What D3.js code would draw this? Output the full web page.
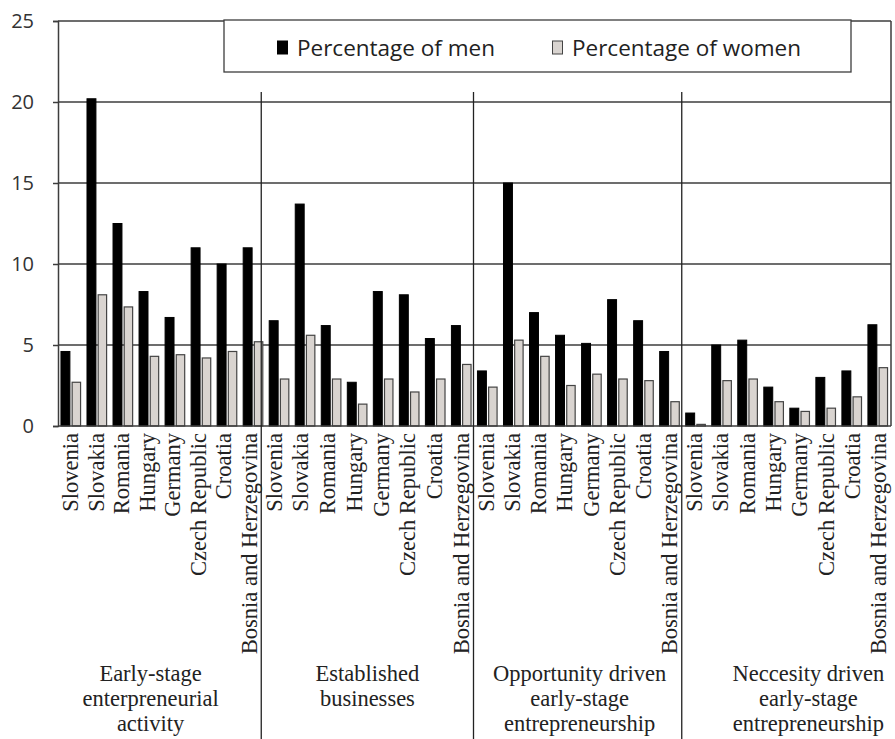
<!DOCTYPE html>
<html>
<head>
<meta charset="utf-8">
<script src="https://cdn.jsdelivr.net/npm/d3@7"></script>
<style>
  html, body { margin: 0; padding: 0; background: #fff; }
  svg { display: block; }
</style>
</head>
<body>
<div id="chart"></div>
<script>
// Countries repeated inside every indicator group
const countries = ["Slovenia", "Slovakia", "Romania", "Hungary", "Germany",
                   "Czech Republic", "Croatia", "Bosnia and Herzegovina"];

// Indicator groups (multi-line captions)
const groupLabels = [
  ["Early-stage", "enterpreneurial", "activity"],
  ["Established", "businesses"],
  ["Opportunity driven", "early-stage", "entrepreneurship"],
  ["Neccesity driven", "early-stage", "entrepreneurship"]
];

// Percentage of men, one row per indicator group, countries in order above
const menEarly       = [4.6, 20.2, 12.5, 8.3, 6.7, 11.0, 10.0, 11.0];
const menEstablished = [6.5, 13.7, 6.2, 2.7, 8.3, 8.1, 5.4, 6.2];
const menOpportunity = [3.4, 15.0, 7.0, 5.6, 5.1, 7.8, 6.5, 4.6];
const menNecessity   = [0.8, 5.0, 5.3, 2.4, 1.1, 3.0, 3.4, 6.25];

// Percentage of women
const womenEarly       = [2.7, 8.1, 7.35, 4.3, 4.4, 4.2, 4.6, 5.2];
const womenEstablished = [2.9, 5.6, 2.9, 1.35, 2.9, 2.1, 2.9, 3.8];
const womenOpportunity = [2.4, 5.3, 4.3, 2.5, 3.2, 2.9, 2.8, 1.5];
const womenNecessity   = [0.1, 2.8, 2.9, 1.5, 0.9, 1.1, 1.8, 3.6];

const seriesNames = ["Percentage of men", "Percentage of women"];
const yTicks = [0, 5, 10, 15, 20, 25];

// ---- build flat rows -------------------------------------------------------
const menByGroup = [menEarly, menEstablished, menOpportunity, menNecessity];
const womenByGroup = [womenEarly, womenEstablished, womenOpportunity, womenNecessity];
const rows = [];
groupLabels.forEach((g, gi) => {
  countries.forEach((c, ci) => {
    rows.push({ key: gi * countries.length + ci, group: gi, country: c, ci,
                men: menByGroup[gi][ci], women: womenByGroup[gi][ci] });
  });
});

// ---- layout ----------------------------------------------------------------
const W = 895, H = 739;
const plot = { left: 58, right: 891, top: 21, bottom: 426 };

const svg = d3.select("#chart").append("svg")
  .attr("width", W).attr("height", H)
  .attr("viewBox", `0 0 ${W} ${H}`);

const x = d3.scaleBand()
  .domain(rows.map(d => d.key))
  .range([plot.left, plot.right])
  .paddingInner(0).paddingOuter(0);

const sub = d3.scaleBand()
  .domain(["men", "women"])
  .range([0, x.bandwidth()])
  .paddingInner(0.2).paddingOuter(0.265);

const y = d3.scaleLinear().domain([0, 25]).range([plot.bottom, plot.top]);

const gridColor = "#3d3d3d";
const womenFill = "#d9d4d0";
const serif = "'Liberation Serif', 'Times New Roman', serif";
const sans = "'Open Sans', 'Liberation Sans', sans-serif";

// gridlines
svg.append("g")
  .selectAll("line")
  .data(yTicks.filter(t => t > 0))
  .join("line")
  .attr("x1", plot.left).attr("x2", plot.right)
  .attr("y1", d => y(d)).attr("y2", d => y(d))
  .attr("stroke", gridColor).attr("stroke-width", 1.5);

// y axis with outward ticks
const yAxis = svg.append("g")
  .attr("transform", `translate(${plot.left},0)`)
  .call(d3.axisLeft(y).tickValues(yTicks).tickSize(5).tickPadding(19));
yAxis.select(".domain").attr("stroke", gridColor).attr("stroke-width", 1.5);
yAxis.selectAll(".tick line").attr("stroke", gridColor).attr("stroke-width", 1.5);
yAxis.selectAll(".tick text")
  .attr("font-family", sans).attr("font-size", 20).attr("fill", "#333");

// right border
svg.append("line")
  .attr("x1", plot.right).attr("x2", plot.right)
  .attr("y1", plot.top).attr("y2", plot.bottom)
  .attr("stroke", gridColor).attr("stroke-width", 1.5);

// bars
const cells = svg.append("g").selectAll("g")
  .data(rows).join("g")
  .attr("transform", d => `translate(${x(d.key)},0)`);

cells.append("rect")
  .attr("x", sub("men")).attr("width", sub.bandwidth())
  .attr("y", d => y(d.men)).attr("height", d => y(0) - y(d.men))
  .attr("fill", "#000").attr("stroke", "#000").attr("stroke-width", 1);

cells.append("rect")
  .attr("x", sub("women")).attr("width", sub.bandwidth() - 0.5)
  .attr("y", d => y(d.women)).attr("height", d => y(0) - y(d.women))
  .attr("fill", womenFill).attr("stroke", "#444").attr("stroke-width", 1.2);

// baseline
svg.append("line")
  .attr("x1", plot.left).attr("x2", plot.right)
  .attr("y1", y(0)).attr("y2", y(0))
  .attr("stroke", gridColor).attr("stroke-width", 1.5);

// group separators, running from under the legend to the bottom of the page
const splitNudge = [-5, -1, -1];
const splits = [1, 2, 3].map((g, i) => x(g * countries.length) + splitNudge[i]);
svg.append("g").selectAll("line")
  .data(splits).join("line")
  .attr("x1", d => d).attr("x2", d => d)
  .attr("y1", 92).attr("y2", H)
  .attr("stroke", "#222").attr("stroke-width", 1.3);

const edges = [plot.left, ...splits, plot.right];

// rotated country labels, spread across each group's span
groupLabels.forEach((g, gi) => {
  const px = d3.scalePoint()
    .domain(countries)
    .range([edges[gi] + 12.5, edges[gi + 1] - 12.5]);
  svg.append("g").selectAll("text")
    .data(countries).join("text")
    .attr("transform", c => `translate(${px(c)},433) rotate(-90)`)
    .attr("dy", "0.35em")
    .attr("text-anchor", "end")
    .attr("font-family", serif).attr("font-size", 22.5).attr("fill", "#222")
    .text(c => c);
});

// group captions
const captionNudge = [-9, 0, 2, 22];
groupLabels.forEach((lines, gi) => {
  const cx = (edges[gi] + edges[gi + 1]) / 2 + captionNudge[gi];
  svg.append("text")
    .attr("x", cx).attr("y", 681)
    .attr("text-anchor", "middle")
    .attr("font-family", serif).attr("font-size", 22.5).attr("fill", "#222")
    .selectAll("tspan").data(lines).join("tspan")
    .attr("x", cx).attr("dy", (d, i) => i === 0 ? 0 : 25)
    .text(d => d);
});

// legend
const legend = svg.append("g");
legend.append("rect")
  .attr("x", 224).attr("y", 20).attr("width", 627).attr("height", 52)
  .attr("fill", "#fff").attr("stroke", gridColor).attr("stroke-width", 1.3);
const legendItems = [
  { name: seriesNames[0], fill: "#000", stroke: "#000", x: 277 },
  { name: seriesNames[1], fill: womenFill, stroke: "#444", x: 552 }
];
const li = legend.selectAll("g.item").data(legendItems).join("g")
  .attr("class", "item")
  .attr("transform", d => `translate(${d.x},0)`);
li.append("rect")
  .attr("x", 0.5).attr("y", 41).attr("width", 10).attr("height", 13)
  .attr("fill", d => d.fill).attr("stroke", d => d.stroke).attr("stroke-width", 1);
li.append("text")
  .attr("x", 20).attr("y", 55.5)
  .attr("font-family", sans).attr("font-size", 22.5).attr("fill", "#222")
  .text(d => d.name);
</script>
</body>
</html>
